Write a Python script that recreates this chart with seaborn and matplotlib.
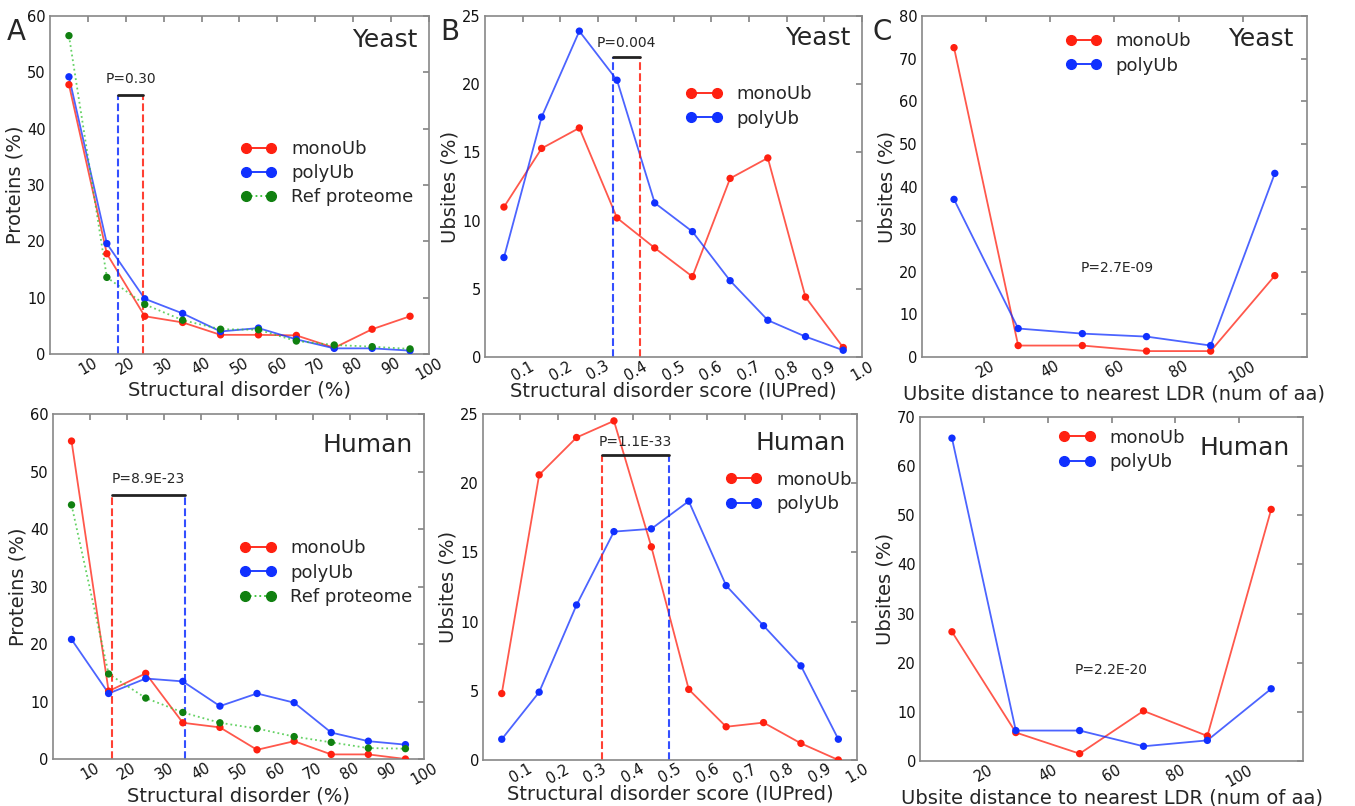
import numpy as np
import pandas as pd
import matplotlib
matplotlib.use('Agg')
import matplotlib.pyplot as plt
import seaborn as sns

# ---- data ----
bins_pct = [5, 15, 25, 35, 45, 55, 65, 75, 85, 95]
bins_score = [0.05, 0.15, 0.25, 0.35, 0.45, 0.55, 0.65, 0.75, 0.85, 0.95]
bins_dist = [10, 30, 50, 70, 90, 110]

# A: proteins (%) vs structural disorder (%)
a_yeast_mono = [47.8, 17.8, 6.7, 5.6, 3.4, 3.4, 3.3, 1.1, 4.4, 6.7]
a_yeast_poly = [49.2, 19.6, 9.8, 7.2, 4.0, 4.6, 2.6, 1.0, 1.0, 0.6]
a_yeast_ref = [56.5, 13.6, 8.8, 6.0, 4.4, 4.3, 2.3, 1.6, 1.3, 0.9]
a_human_mono = [55.3, 11.8, 14.9, 6.3, 5.5, 1.6, 3.1, 0.8, 0.8, 0.0]
a_human_poly = [20.8, 11.4, 14.0, 13.5, 9.2, 11.4, 9.8, 4.6, 3.1, 2.5]
a_human_ref = [44.2, 14.8, 10.6, 8.1, 6.3, 5.3, 3.9, 2.9, 1.9, 1.8]

# B: ubsites (%) vs IUPred score
b_yeast_mono = [11.0, 15.3, 16.8, 10.2, 8.0, 5.9, 13.1, 14.6, 4.4, 0.7]
b_yeast_poly = [7.3, 17.6, 23.9, 20.3, 11.3, 9.2, 5.6, 2.7, 1.5, 0.5]
b_human_mono = [4.8, 20.6, 23.3, 24.5, 15.4, 5.1, 2.4, 2.7, 1.2, 0.0]
b_human_poly = [1.5, 4.9, 11.2, 16.5, 16.7, 18.7, 12.6, 9.7, 6.8, 1.5]

# C: ubsites (%) vs distance to nearest LDR
c_yeast_mono = [72.6, 2.7, 2.7, 1.4, 1.4, 19.1]
c_yeast_poly = [37.0, 6.7, 5.5, 4.8, 2.7, 43.1]
c_human_mono = [26.3, 5.8, 1.5, 10.2, 5.1, 51.2]
c_human_poly = [65.7, 6.2, 6.2, 3.0, 4.2, 14.7]

# median markers (dashed lines) and p-values
a_yeast_med = {'poly': 18.0, 'mono': 24.5}
a_human_med = {'mono': 16.0, 'poly': 35.5}
b_yeast_med = {'poly': 0.338, 'mono': 0.412}
b_human_med = {'mono': 0.319, 'poly': 0.497}
p_texts = ['P=0.30', 'P=8.9E-23', 'P=0.004', 'P=1.1E-33', 'P=2.7E-09', 'P=2.2E-20']

sns.set_theme(style='white')
plt.rcParams['font.family'] = ['DejaVu Sans']
plt.rcParams['xtick.direction'] = 'in'
plt.rcParams['ytick.direction'] = 'in'
plt.rcParams['xtick.top'] = True
plt.rcParams['ytick.right'] = True
plt.rcParams['xtick.major.size'] = 4
plt.rcParams['ytick.major.size'] = 4

RED = '#ff2010'
BLUE = '#1030ff'
GREEN = '#108010'

fig = plt.figure(figsize=(13.55, 8.06), dpi=100)
pos = {
    'a1': [0.0369, 0.5608, 0.2797, 0.4194],
    'a2': [0.0391, 0.0583, 0.2738, 0.4280],
    'b1': [0.3580, 0.5570, 0.2782, 0.4230],
    'b2': [0.3565, 0.0571, 0.2760, 0.4293],
    'c1': [0.6804, 0.5570, 0.2841, 0.4230],
    'c2': [0.6790, 0.0558, 0.2827, 0.4268],
}
axs = {k: fig.add_axes(v) for k, v in pos.items()}


def draw(ax, x, series):
    for lab, y, col, ls, mcol in series:
        df = pd.DataFrame({'x': x, 'y': y})
        sns.lineplot(data=df, x='x', y='y', ax=ax, color=col, linestyle=ls,
                     linewidth=1.3, alpha=0.75, legend=False)
        sns.scatterplot(data=df, x='x', y='y', ax=ax, color=mcol, s=28,
                        edgecolor='none', legend=False, zorder=3)
    handles = [matplotlib.lines.Line2D([], [], color=col, ls=ls, lw=1.3,
                                       marker='o', markersize=7,
                                       markerfacecolor=mcol, markeredgecolor=mcol)
               for lab, y, col, ls, mcol in series]
    return handles, [s[0] for s in series]


def style(ax, xlim, ylim, xticks, yticks, xlabel, ylabel, xfmt):
    ax.set_xlim(*xlim)
    ax.set_ylim(*ylim)
    ax.set_xticks(xticks)
    ax.set_xticklabels([xfmt(t) for t in xticks], rotation=30, fontsize=10.5)
    ax.set_yticks(yticks)
    ax.set_yticklabels([str(t) for t in yticks], fontsize=10.5)
    ax.set_xlabel(xlabel, fontsize=14, labelpad=-1)
    ax.set_ylabel(ylabel, fontsize=14, labelpad=2)
    for sp in ax.spines.values():
        sp.set_color('#888888')
        sp.set_linewidth(1.2)
    ax.tick_params(colors='#888888', labelcolor='#111111')
    ax.tick_params(axis='x', pad=1)
    ax.tick_params(axis='y', pad=3)


def median_bar(ax, med, ytop, ptxt, ytxt):
    for key, col in (('mono', RED), ('poly', BLUE)):
        ax.plot([med[key], med[key]], [0, ytop], color=col, ls='--', lw=1.5, alpha=0.85)
    lo, hi = min(med.values()), max(med.values())
    ax.plot([lo, hi], [ytop, ytop], color='#222222', lw=2)
    ax.text((lo + hi) / 2, ytxt, ptxt, ha='center', va='bottom', fontsize=10)


# ---- panel A ----
for key, m, p, r, med, ptxt, sp, leg_y, sy in [
        ('a1', a_yeast_mono, a_yeast_poly, a_yeast_ref, a_yeast_med, p_texts[0], 'Yeast', 0.535, 0.93),
        ('a2', a_human_mono, a_human_poly, a_human_ref, a_human_med, p_texts[1], 'Human', 0.54, 0.91)]:
    ax = axs[key]
    h, l = draw(ax, bins_pct, [('monoUb', m, RED, '-', RED),
                               ('polyUb', p, BLUE, '-', BLUE),
                               ('Ref proteome', r, '#33c433', ':', GREEN)])
    median_bar(ax, med, 46, ptxt, 47.5)
    style(ax, (0, 100), (0, 60), list(range(10, 101, 10)), list(range(0, 61, 10)),
          'Structural disorder (%)', 'Proteins (%)', lambda t: str(t))
    ax.legend(h, l, loc='center left', bbox_to_anchor=(0.46, leg_y), frameon=False,
              fontsize=13, numpoints=2, handlelength=2.0, labelspacing=0.35)
    ax.text(0.97, sy, sp, transform=ax.transAxes, ha='right', va='center', fontsize=18)

# ---- panel B ----
for key, m, p, med, ptxt, sp, leg, sy in [
        ('b1', b_yeast_mono, b_yeast_poly, b_yeast_med, p_texts[2], 'Yeast', (0.49, 0.735), 0.935),
        ('b2', b_human_mono, b_human_poly, b_human_med, p_texts[3], 'Human', (0.605, 0.775), 0.915)]:
    ax = axs[key]
    h, l = draw(ax, bins_score, [('monoUb', m, RED, '-', RED),
                                 ('polyUb', p, BLUE, '-', BLUE)])
    median_bar(ax, med, 22, ptxt, 22.5)
    style(ax, (0, 1.0), (0, 25), [round(0.1 * i, 1) for i in range(1, 11)], list(range(0, 26, 5)),
          'Structural disorder score (IUPred)', 'Ubsites (%)', lambda t: '%.1f' % t)
    ax.legend(h, l, loc='center left', bbox_to_anchor=leg, frameon=False,
              fontsize=13, numpoints=2, handlelength=2.0, labelspacing=0.35)
    ax.text(0.97, sy, sp, transform=ax.transAxes, ha='right', va='center', fontsize=18)

# ---- panel C ----
for key, m, p, ptxt, ylim, yt, sp, leg, sy, pxy in [
        ('c1', c_yeast_mono, c_yeast_poly, p_texts[4], 80, list(range(0, 81, 10)), 'Yeast', (0.33, 0.89), 0.933, (61, 21)),
        ('c2', c_human_mono, c_human_poly, p_texts[5], 70, list(range(0, 71, 10)), 'Human', (0.32, 0.905), 0.91, (60, 18.5))]:
    ax = axs[key]
    h, l = draw(ax, bins_dist, [('monoUb', m, RED, '-', RED),
                                ('polyUb', p, BLUE, '-', BLUE)])
    style(ax, (0, 120), (0, ylim), [20, 40, 60, 80, 100], yt,
          'Ubsite distance to nearest LDR (num of aa)', 'Ubsites (%)', lambda t: str(t))
    ax.legend(h, l, loc='center left', bbox_to_anchor=leg, frameon=False,
              fontsize=13, numpoints=2, handlelength=2.0, labelspacing=0.35)
    ax.text(0.965, sy, sp, transform=ax.transAxes, ha='right', va='center', fontsize=18)
    ax.text(pxy[0], pxy[1], ptxt, ha='center', va='center', fontsize=10)

# panel letters
fig.text(0.005, 0.960, 'A', fontsize=20, va='center')
fig.text(0.325, 0.960, 'B', fontsize=20, va='center')
fig.text(0.644, 0.960, 'C', fontsize=20, va='center')

fig.savefig('out.png', dpi=100)
